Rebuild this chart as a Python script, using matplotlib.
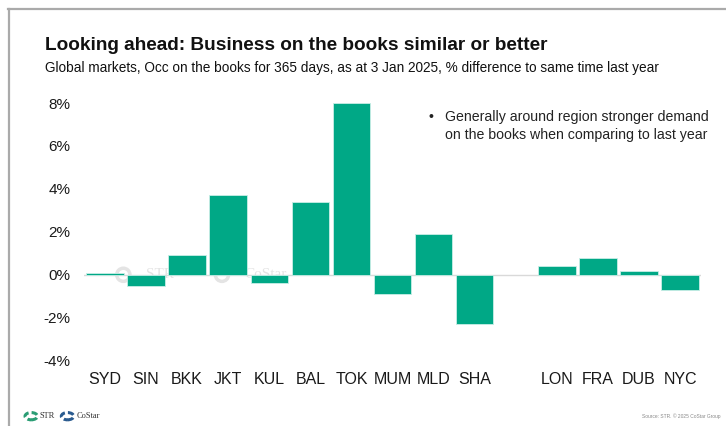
import matplotlib.pyplot as plt
from matplotlib.patches import Circle
from matplotlib.lines import Line2D

plt.rcParams['font.family'] = ['Liberation Sans', 'DejaVu Sans']

# Occ on the books, % difference to same time last year (blank slot splits APAC / other)
markets = ['SYD', 'SIN', 'BKK', 'JKT', 'KUL', 'BAL', 'TOK', 'MUM', 'MLD', 'SHA',
           '', 'LON', 'FRA', 'DUB', 'NYC']
occ_diff = [0.1, -0.5, 0.9, 3.7, -0.4, 3.4, 8.0, -0.9, 1.9, -2.3,
            None, 0.4, 0.8, 0.2, -0.7]
y_ticks = [-4, -2, 0, 2, 4, 6, 8]

bar_color = '#00a886'

fig = plt.figure(figsize=(7.26, 4.26), dpi=100)
ax = fig.add_axes([0.1161, 0.1533, 0.8491, 0.6049])

xs = [i for i, v in enumerate(occ_diff) if v is not None]
vals = [v for v in occ_diff if v is not None]
ax.bar(xs, vals, width=0.91, color=bar_color, edgecolor='#c8eee6', linewidth=0.6, zorder=3)
ax.axhline(0, color='#d9d9d9', linewidth=1.0, zorder=2)

ax.set_xlim(-0.5, len(markets) - 0.5)
ax.set_ylim(-4, 8)
ax.set_xticks(range(len(markets)))
ax.set_xticklabels(markets, fontsize=11.5, color='#1a1a1a')
ax.set_yticks(y_ticks)
ax.set_yticklabels([f'{t}%' for t in y_ticks], fontsize=11, color='#1a1a1a')
ax.tick_params(length=0)
ax.tick_params(axis='y', pad=10)
ax.tick_params(axis='x', pad=8)
for s in ax.spines.values():
    s.set_visible(False)

# faint watermark near the baseline
wm = '#e4e4e4'
for xc, label in [(1.0, 'STR'), (3.4, 'CoStar')]:
    ax.scatter([xc - 0.55], [0], s=90, marker='o', facecolors='none', edgecolors=wm,
               linewidths=2.5, zorder=1)
    ax.text(xc, 0, label, fontsize=11, family='Liberation Serif', color=wm,
            ha='left', va='center', zorder=1)

# slide frame
fig.add_artist(Line2D([0.011, 1.0], [0.978, 0.978], color='#aaaaaa', linewidth=1.6))
fig.add_artist(Line2D([0.012, 0.012], [0.0, 0.978], color='#aaaaaa', linewidth=1.6))

fig.text(0.062, 0.893, 'Looking ahead: Business on the books similar or better',
         fontsize=13.7, fontweight='bold', color='#111111', va='center')
fig.text(0.062, 0.840, 'Global markets, Occ on the books for 365 days, as at 3 Jan 2025, '
         '% difference to same time last year', fontsize=9.8, color='#111111', va='center')

note_y = 0.741
fig.text(0.590, note_y, '\u2022', fontsize=10.2, color='#222222', va='top')
fig.text(0.613, note_y, 'Generally around region stronger demand\non the books when comparing to last year',
         fontsize=10.2, color='#222222', va='top', linespacing=1.3)

# footer logos and source line
fig.add_artist(Circle((0.043, 0.023), 0.0085, transform=fig.transFigure, fill=False,
                      edgecolor='#2a9d74', linewidth=2.2, linestyle=(0, (2, 1))))
fig.text(0.055, 0.023, 'STR', fontsize=6, family='Liberation Serif', color='#333333', va='center')
fig.add_artist(Circle((0.093, 0.023), 0.0085, transform=fig.transFigure, fill=False,
                      edgecolor='#2a5b8f', linewidth=2.2, linestyle=(0, (2, 1))))
fig.text(0.105, 0.023, 'CoStar', fontsize=6, family='Liberation Serif', color='#333333', va='center')
fig.text(0.993, 0.023, 'Source: STR. \u00a9 2025 CoStar Group', fontsize=3.5,
         color='#888888', ha='right', va='center')

plt.savefig('out.png', dpi=100)
